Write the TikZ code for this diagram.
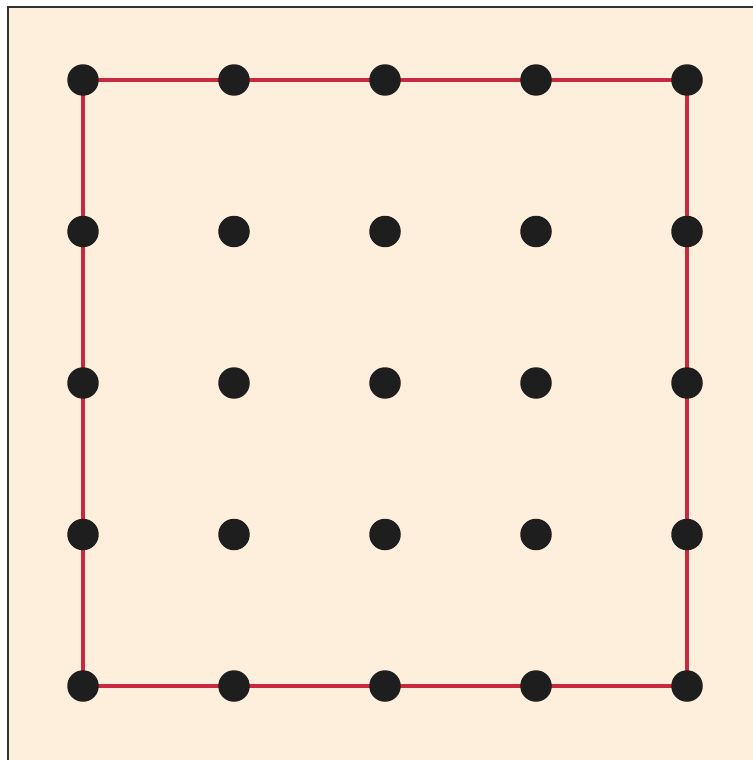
\documentclass[tikz,border=0pt]{standalone}
\usepackage{tikz}
\usetikzlibrary{backgrounds}
\usepackage{xcolor}
\definecolor{paper}{HTML}{FDEFDC}
\definecolor{edgered}{HTML}{C9283E}
\definecolor{dotblack}{HTML}{1E1E1E}

\begin{document}
\begin{tikzpicture}[
    x=0.02cm, y=-0.02cm,
    pin/.style={circle, fill=dotblack, minimum size=0.63cm, inner sep=0pt},
    rim/.style={draw=edgered, line width=1.8pt}
]
    \useasboundingbox (0,0) rectangle (752,760);
    \clip (0,0) rectangle (752,760);

    % grid of pins
    \foreach \i in {1,...,5}
      \foreach \j in {1,...,5}
        \node[pin] (d\i\j) at ({83+151*(\i-1)},{80+151.5*(\j-1)}) {};

    \begin{scope}[on background layer]
    \fill[paper, draw=black!80, line width=1.5pt] (8,7) rectangle (770,780);
    \draw[rim] (d11.center) -- (d51.center) -- (d55.center) -- (d15.center) -- cycle;
    \end{scope}
\end{tikzpicture}
\end{document}
